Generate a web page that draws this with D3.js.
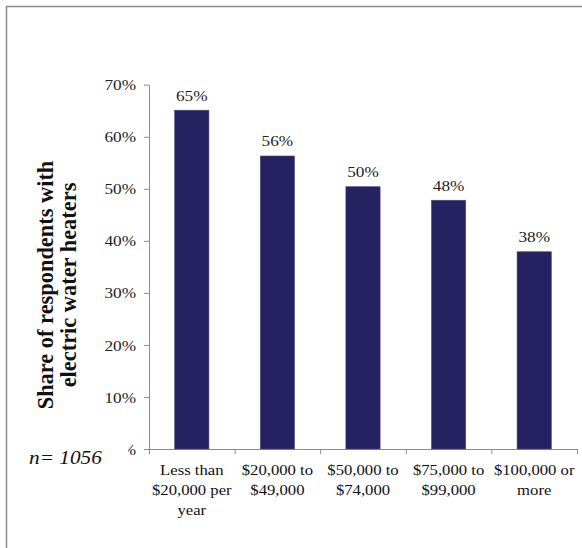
<!DOCTYPE html>
<html><head><meta charset="utf-8">
<script src="https://cdn.jsdelivr.net/npm/d3@7"></script>
<style>body{margin:0;background:#fff}svg{display:block}</style>
</head><body>
<script>
const categories = [["Less than","$20,000 per","year"],["$20,000 to","$49,000"],["$50,000 to","$74,000"],["$75,000 to","$99,000"],["$100,000 or","more"]];
const values = [65.1, 56.3, 50.4, 47.8, 37.9];
const valueLabels = ["65%","56%","50%","48%","38%"];
const yTicks = [0,10,20,30,40,50,60,70];
const yTickLabels = ["0%","10%","20%","30%","40%","50%","60%","70%"];
const yTitle = ["Share of respondents with","electric water heaters"];
const note = "n= 1056";

const W=582,H=548,SX=1.15;
const svg=d3.select("body").append("svg").attr("width",W).attr("height",H);
const font="'Liberation Serif','Times New Roman',serif";
svg.append("rect").attr("x",6.5).attr("y",6.5).attr("width",W+10).attr("height",H+10)
  .attr("fill","none").attr("stroke","#8c8c8c").attr("stroke-width",1.5);

const x0=149,x1=577,yb=449,yt=84.7;
const x=d3.scaleBand().domain(d3.range(values.length)).range([x0,x1]).paddingInner(0.6).paddingOuter(0.3);
const y=d3.scaleLinear().domain([0,70]).range([yb,yt]);

const cp=svg.append("defs").append("clipPath").attr("id","c");
cp.append("rect").attr("x",-200).attr("y",-500).attr("width",1000).attr("height",500+(440-0));
cp.append("rect").attr("x",128-x0).attr("y",-500).attr("width",1000).attr("height",1500);

// y axis
const ya=svg.append("g").attr("transform",`translate(${x0},0)`)
  .call(d3.axisLeft(y).tickValues(yTicks).tickFormat((d,i)=>yTickLabels[i]).tickSize(5).tickSizeOuter(0).tickPadding(8));
ya.select(".domain").attr("stroke","#8c8c8c");
ya.selectAll(".tick line").attr("stroke","#8c8c8c");
ya.selectAll(".tick text").each(function(){
  const t=d3.select(this);
  t.attr("x",null).attr("dy","0.34em").attr("transform",`translate(-13,0) scale(${SX},1)`);
}).attr("font-family",font).attr("font-size",15).attr("fill","#222");
ya.selectAll(".tick").attr("clip-path",null);
// clip the tick labels (the 0% label is partly hidden, as in the source)
ya.attr("clip-path","url(#c)");

// x axis
const xl=d3.scaleLinear().domain([0,values.length]).range([x0,x1]);
const xa=svg.append("g").attr("transform",`translate(0,${yb})`)
  .call(d3.axisBottom(xl).tickValues(d3.range(values.length+1)).tickFormat("").tickSize(5).tickSizeOuter(0));
xa.select(".domain").attr("stroke","#8c8c8c");
xa.selectAll(".tick line").attr("stroke","#8c8c8c");

// bars
svg.selectAll("rect.bar").data(values).join("rect").attr("class","bar")
  .attr("x",(d,i)=>x(i)).attr("width",x.bandwidth())
  .attr("y",d=>y(d)).attr("height",d=>yb-y(d))
  .attr("fill","#262262").attr("stroke","#4a4880").attr("stroke-width",0.6);

// value labels
svg.selectAll("text.val").data(values).join("text").attr("class","val")
  .attr("transform",(d,i)=>`translate(${x(i)+x.bandwidth()/2},${y(d)-9.5}) scale(${SX},1)`)
  .attr("text-anchor","middle").attr("font-family",font).attr("font-size",15).attr("fill","#222")
  .text((d,i)=>valueLabels[i]);

// category labels
const cg=svg.selectAll("text.cat").data(categories).join("text").attr("class","cat")
  .attr("transform",(d,i)=>`translate(${x(i)+x.bandwidth()/2},0) scale(${SX},1)`)
  .attr("text-anchor","middle").attr("font-family",font).attr("font-size",14.5).attr("fill","#111");
cg.each(function(lines){
  d3.select(this).selectAll("tspan").data(lines).join("tspan")
    .attr("x",0).attr("y",(l,j)=>475+j*20).text(l=>l);
});

// y title
const t=svg.append("text").attr("transform","translate(0,285) rotate(-90)")
  .attr("text-anchor","middle").attr("font-family",font).attr("font-size",22.4).attr("font-weight","bold").attr("fill","#111");
t.selectAll("tspan").data(yTitle).join("tspan").attr("x",0).attr("y",(d,i)=>53+i*23).text(d=>d);

svg.append("text").attr("transform",`translate(29,464) scale(${SX},1)`).attr("font-family",font).attr("font-size",18.5)
  .attr("font-style","italic").attr("fill","#111").text(note);
</script>
</body></html>
